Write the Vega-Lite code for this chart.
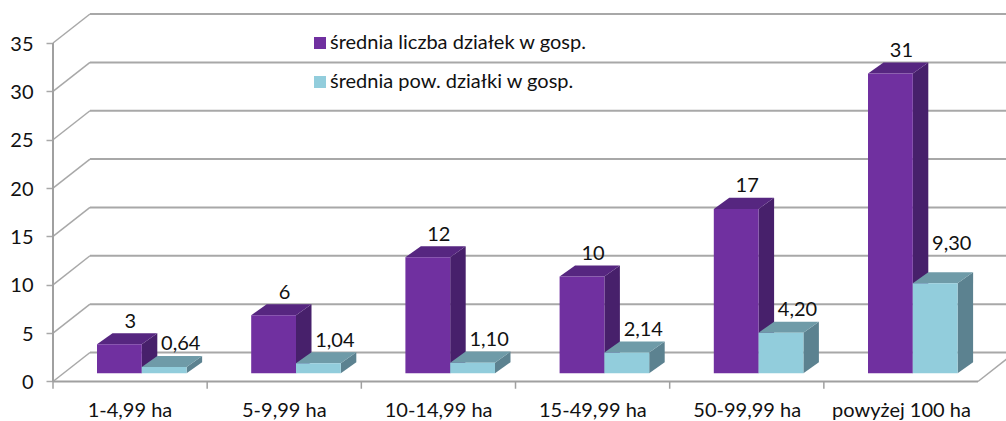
{
"$schema":"https://vega.github.io/schema/vega-lite/v6.json",
"width":1006,"height":421,"padding":0,"autosize":"none","background":"white",
"config":{"view":{"stroke":null},"text":{"font":"Lato"},
"axisX":{"disable":true},
"axisY":{"offset":-53,"domain":false,"grid":false,"tickColor":"#A8A8A8","tickSize":7,"tickWidth":1.5,"tickCount":8,"labelFont":"Lato","labelFontSize":20,"labelColor":"#111111","labelPadding":13,"labelOffset":1,"labelBaseline":"middle"},
"legend":{"labelFont":"Lato"}},
"datasets":{
"bars":[
{"category":"1-4,99 ha","series":"średnia liczba działek w gosp.","value":3},
{"category":"5-9,99 ha","series":"średnia liczba działek w gosp.","value":6},
{"category":"10-14,99 ha","series":"średnia liczba działek w gosp.","value":12},
{"category":"15-49,99 ha","series":"średnia liczba działek w gosp.","value":10},
{"category":"50-99,99 ha","series":"średnia liczba działek w gosp.","value":17},
{"category":"powyżej 100 ha","series":"średnia liczba działek w gosp.","value":31},
{"category":"1-4,99 ha","series":"średnia pow. działki w gosp.","value":0.64},
{"category":"5-9,99 ha","series":"średnia pow. działki w gosp.","value":1.04},
{"category":"10-14,99 ha","series":"średnia pow. działki w gosp.","value":1.10},
{"category":"15-49,99 ha","series":"średnia pow. działki w gosp.","value":2.14},
{"category":"50-99,99 ha","series":"średnia pow. działki w gosp.","value":4.20},
{"category":"powyżej 100 ha","series":"średnia pow. działki w gosp.","value":9.30}
],
"ticks":[{"tick":0},{"tick":5},{"tick":10},{"tick":15},{"tick":20},{"tick":25},{"tick":30},{"tick":35}],
"cats":[{"category":"1-4,99 ha"},{"category":"5-9,99 ha"},{"category":"10-14,99 ha"},{"category":"15-49,99 ha"},{"category":"50-99,99 ha"},{"category":"powyżej 100 ha"}]
},
"layer":[
{"data":{"name":"ticks"},
 "layer":[
 {"mark":{"type":"rule","color":"#A8A8A8","strokeWidth":2},
  "transform":[{"calculate":"90","as":"xa"},{"calculate":"1006","as":"xb"},{"calculate":"datum.tick","as":"ya"}],
  "encoding":{"x":{"field":"xa","type":"quantitative","title":null,"scale":{"domain":[0,1006],"nice":false,"zero":false}},"x2":{"field":"xb"},
  "y":{"field":"ya","type":"quantitative","title":null,"scale":{"domain":[-4.085,39.45],"nice":false,"zero":false}},"yOffset":{"value":-29}}},
 {"mark":{"type":"rule","color":"#A8A8A8","strokeWidth":1.5},
  "transform":[{"calculate":"53","as":"xa"},{"calculate":"90","as":"xb"},{"calculate":"datum.tick+3","as":"yb"}],
  "encoding":{"x":{"field":"xa","type":"quantitative","title":null},"x2":{"field":"xb"},
  "y":{"field":"tick","type":"quantitative","title":null},"y2":{"field":"yb"}}},
 {"mark":{"type":"rule","color":"#A0A0A0","strokeWidth":2},
  "transform":[{"filter":"datum.tick==0"},{"calculate":"53","as":"xa"},{"calculate":"35","as":"yb"}],
  "encoding":{"x":{"field":"xa","type":"quantitative","title":null},"y":{"field":"tick","type":"quantitative","title":null},"y2":{"field":"yb"}}},
 {"mark":{"type":"rule","color":"#A0A0A0","strokeWidth":2},
  "transform":[{"filter":"datum.tick==0"},{"calculate":"53","as":"xa"},{"calculate":"978","as":"xb"}],
  "encoding":{"x":{"field":"xa","type":"quantitative","title":null},"x2":{"field":"xb"},"y":{"field":"tick","type":"quantitative","title":null}}},
 {"mark":{"type":"rule","color":"#A8A8A8","strokeWidth":1.5},
  "transform":[{"filter":"datum.tick==0"},{"calculate":"978","as":"xa"},{"calculate":"1015","as":"xb"},{"calculate":"3","as":"yb"}],
  "encoding":{"x":{"field":"xa","type":"quantitative","title":null},"x2":{"field":"xb"},"y":{"field":"tick","type":"quantitative","title":null},"y2":{"field":"yb"}}}
 ]},
{"data":{"name":"cats"},
 "transform":[{"calculate":"indexof(['1-4,99 ha','5-9,99 ha','10-14,99 ha','15-49,99 ha','50-99,99 ha','powyżej 100 ha'],datum.category)","as":"i"},
  {"calculate":"53+154.17*datum.i","as":"tx"},{"calculate":"130+154.3*datum.i","as":"lx"},{"calculate":"0","as":"y0"},{"calculate":"-0.75","as":"y1"},{"calculate":"-3.05","as":"ly"}],
 "layer":[
 {"mark":{"type":"rule","color":"#A0A0A0","strokeWidth":1.5},"encoding":{"x":{"field":"tx","type":"quantitative","title":null},"y":{"field":"y0","type":"quantitative","title":null},"y2":{"field":"y1"}}},
 {"mark":{"type":"text","fontSize":20,"color":"#111111","baseline":"middle"},"encoding":{"x":{"field":"lx","type":"quantitative","title":null},"y":{"field":"ly","type":"quantitative","title":null},"text":{"field":"category"}}}
 ]},
{"data":{"name":"bars"},
 "transform":[
  {"calculate":"indexof(['1-4,99 ha','5-9,99 ha','10-14,99 ha','15-49,99 ha','50-99,99 ha','powyżej 100 ha'],datum.category)","as":"i"},
  {"calculate":"datum.series=='średnia liczba działek w gosp.'?0:1","as":"s"},
  {"calculate":"97+154.2*datum.i+44.8*datum.s","as":"x0"},
  {"calculate":"datum.x0+44.8","as":"x1"},
  {"calculate":"0.85","as":"base"},
  {"calculate":"datum.value+0.85","as":"top"},
  {"calculate":"datum.category+datum.series","as":"key"}],
 "layer":[
 {"mark":{"type":"area"},
  "transform":[{"calculate":"[0,1]","as":"t"},{"flatten":["t"]},
   {"calculate":"datum.x1+15.5*datum.t","as":"fx"},{"calculate":"datum.base+1.14*datum.t","as":"fy"},{"calculate":"datum.top+1.14*datum.t","as":"fy2"}],
  "encoding":{"x":{"field":"fx","type":"quantitative","title":null},"y":{"field":"fy","type":"quantitative","title":null},"y2":{"field":"fy2"},"detail":{"field":"key"},
   "color":{"condition":{"test":"datum.s==0","value":"#47206B"},"value":"#5C8290"}}},
 {"mark":{"type":"area"},
  "transform":[{"calculate":"[0,1,2,3]","as":"t"},{"flatten":["t"]},
   {"calculate":"datum.t==0?datum.x0:datum.t==1?datum.x0+15.5:datum.t==2?datum.x1:datum.x1+15.5","as":"fx"},
   {"calculate":"datum.top+(datum.t==3?1.14:0)","as":"fy"},{"calculate":"datum.top+(datum.t==0?0:1.14)","as":"fy2"}],
  "encoding":{"x":{"field":"fx","type":"quantitative","title":null},"y":{"field":"fy","type":"quantitative","title":null},"y2":{"field":"fy2"},"detail":{"field":"key"},
   "color":{"condition":{"test":"datum.s==0","value":"#562680"},"value":"#6F9BA8"}}},
 {"mark":{"type":"rect"},
  "encoding":{"x":{"field":"x0","type":"quantitative","title":null},"x2":{"field":"x1"},"y":{"field":"base","type":"quantitative","title":null},"y2":{"field":"top"},
   "color":{"field":"series","type":"nominal","scale":{"domain":["średnia liczba działek w gosp.","średnia pow. działki w gosp."],"range":["#7030A0","#92CDDC"]},
    "legend":{"title":null,"orient":"none","legendX":310,"legendY":33,"symbolType":"square","symbolSize":144,"symbolStrokeWidth":0,"labelFontSize":20,"labelColor":"#111111","labelLimit":400,"rowPadding":19,"labelOffset":0,"padding":0}}}},
 {"mark":{"type":"text","fontSize":20,"color":"#111111","baseline":"middle"},
  "transform":[{"calculate":"datum.s==0?format(datum.value,'d'):replace(format(datum.value,'.2f'),'.',',')","as":"label"},
   {"calculate":"(datum.x0+datum.x1)/2+(datum.s==0?11:16.5)","as":"tx"},
   {"calculate":"datum.top+1.14+1.2+(datum.value==9.3?1.75:0)","as":"ty"}],
  "encoding":{"x":{"field":"tx","type":"quantitative","title":null},"y":{"field":"ty","type":"quantitative","title":null},"text":{"field":"label"}}}
 ]}
]
}
